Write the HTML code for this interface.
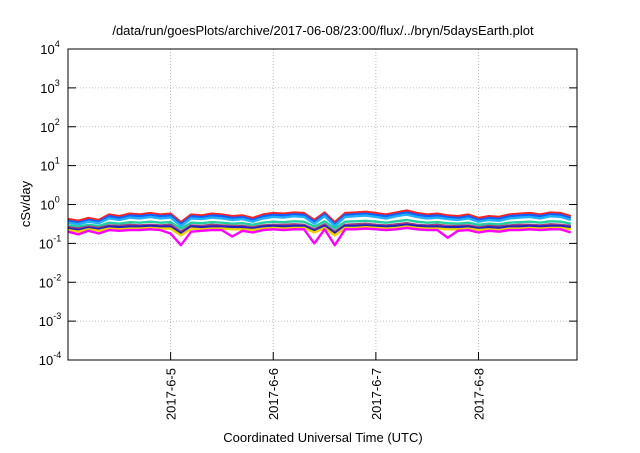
<!DOCTYPE html>
<html><head><meta charset="utf-8"><style>
body{margin:0;background:#fff;width:640px;height:448px;overflow:hidden}
text{font-family:"Liberation Sans",sans-serif;fill:#000}
</style></head><body>
<svg id="chart" width="640" height="448" xmlns="http://www.w3.org/2000/svg"></svg>
<script>
const dayLabels=["2017-6-5","2017-6-6","2017-6-7","2017-6-8"];
const dayTicks=[1,2,3,4];
const decadeExps=[-4,-3,-2,-1,0,1,2,3,4];
const seriesColors=["#ff2020","#1060ff","#20b0ff","#20d0a0","#a04080","#2020c0","#f0d000","#ff00ff"];
const red=[0.42,0.38,0.45,0.40,0.55,0.50,0.58,0.55,0.60,0.55,0.58,0.35,0.55,0.52,0.58,0.55,0.50,0.52,0.45,0.55,0.60,0.58,0.62,0.60,0.40,0.62,0.35,0.60,0.62,0.65,0.60,0.55,0.62,0.70,0.60,0.55,0.58,0.52,0.50,0.55,0.45,0.50,0.48,0.55,0.58,0.60,0.55,0.62,0.60,0.50];
const blue=[0.38,0.34,0.40,0.36,0.50,0.45,0.52,0.50,0.54,0.50,0.52,0.31,0.50,0.47,0.52,0.50,0.45,0.47,0.40,0.50,0.54,0.52,0.56,0.54,0.36,0.56,0.31,0.54,0.56,0.58,0.54,0.50,0.56,0.62,0.54,0.50,0.52,0.47,0.45,0.50,0.40,0.45,0.43,0.50,0.52,0.54,0.50,0.56,0.54,0.45];
const cyan=[0.34,0.31,0.36,0.33,0.44,0.40,0.46,0.44,0.48,0.44,0.46,0.28,0.44,0.42,0.46,0.44,0.40,0.42,0.36,0.44,0.48,0.46,0.50,0.48,0.32,0.50,0.28,0.48,0.50,0.52,0.48,0.44,0.50,0.55,0.48,0.44,0.46,0.42,0.40,0.44,0.36,0.40,0.38,0.44,0.46,0.48,0.44,0.50,0.48,0.40];
const teal=[0.29,0.27,0.30,0.28,0.34,0.32,0.35,0.34,0.36,0.34,0.35,0.24,0.34,0.33,0.35,0.34,0.32,0.33,0.30,0.34,0.36,0.35,0.37,0.36,0.27,0.37,0.24,0.36,0.37,0.38,0.36,0.34,0.37,0.40,0.36,0.34,0.35,0.33,0.32,0.34,0.30,0.32,0.31,0.34,0.35,0.36,0.34,0.37,0.36,0.32];
const purple=[0.26,0.24,0.27,0.25,0.29,0.28,0.30,0.29,0.30,0.29,0.30,0.20,0.29,0.28,0.30,0.29,0.28,0.28,0.26,0.29,0.30,0.30,0.31,0.30,0.23,0.31,0.20,0.30,0.31,0.32,0.30,0.29,0.31,0.33,0.30,0.29,0.30,0.28,0.28,0.29,0.26,0.28,0.27,0.29,0.30,0.30,0.29,0.31,0.30,0.28];
const dblue=[0.24,0.22,0.25,0.23,0.27,0.26,0.27,0.27,0.28,0.27,0.27,0.18,0.27,0.26,0.27,0.27,0.26,0.26,0.24,0.27,0.28,0.27,0.28,0.28,0.21,0.28,0.18,0.28,0.28,0.29,0.28,0.27,0.28,0.30,0.28,0.27,0.27,0.26,0.26,0.27,0.24,0.26,0.25,0.27,0.27,0.28,0.27,0.28,0.28,0.26];
const yellow=[0.22,0.20,0.23,0.21,0.24,0.23,0.24,0.24,0.25,0.24,0.24,0.16,0.24,0.23,0.24,0.24,0.23,0.23,0.22,0.24,0.25,0.24,0.25,0.25,0.19,0.25,0.16,0.25,0.25,0.26,0.25,0.24,0.25,0.27,0.25,0.24,0.24,0.23,0.23,0.24,0.22,0.23,0.22,0.24,0.24,0.25,0.24,0.25,0.25,0.23];
const magenta=[0.20,0.17,0.21,0.18,0.22,0.21,0.22,0.22,0.23,0.22,0.18,0.09,0.20,0.21,0.22,0.22,0.15,0.21,0.19,0.22,0.23,0.22,0.23,0.23,0.10,0.23,0.09,0.23,0.23,0.24,0.23,0.22,0.23,0.25,0.23,0.22,0.22,0.14,0.21,0.22,0.19,0.21,0.20,0.22,0.22,0.23,0.22,0.23,0.23,0.19];
const series=[red,blue,cyan,teal,purple,dblue,yellow,magenta];
const X0=68,X1=577,Y0=49,Y1=360,T0=0,T1=4.96;
const xs=t=>X0+(t-T0)/(T1-T0)*(X1-X0);
const ys=v=>Y1-(Math.log10(v)+4)/8*(Y1-Y0);
const svg=document.getElementById('chart');
const NS="http://www.w3.org/2000/svg";
function mk(tag,attrs,txt){const e=document.createElementNS(NS,tag);for(const k in attrs)e.setAttribute(k,attrs[k]);if(txt!==undefined)e.textContent=txt;svg.appendChild(e);return e;}
decadeExps.forEach(p=>{
 const y=ys(Math.pow(10,p));
 if(p>-4&&p<4){const g=mk('line',{x1:X0,x2:X1,y1:y,y2:y,stroke:'#aaa','stroke-width':0.8,'stroke-dasharray':'1,2'});
 
 }
 const tk=mk('line',{x1:X0,x2:X0+8,y1:y,y2:y,stroke:'#000'});
 
 
 const tk2=mk('line',{x1:X1-8,x2:X1,y1:y,y2:y,stroke:'#000'});
 
 
 const lb=mk('text',{x:X0-18,y:y+5,'text-anchor':'middle','font-size':13});
 
 
 lb.innerHTML='10<tspan dy="-7" font-size="9">'+p+'</tspan>';
});
dayTicks.forEach((d,i)=>{
 const x=xs(d);
 const g=mk('line',{x1:x,x2:x,y1:Y0,y2:Y1,stroke:'#aaa','stroke-width':0.8,'stroke-dasharray':'1,2'});
 
 
 const tk=mk('line',{x1:x,x2:x,y1:Y1,y2:Y1-8,stroke:'#000'});
 
 
 const lb=mk('text',{x:0,y:0,'text-anchor':'end','font-size':13,transform:`translate(${x+5},368) rotate(-90)`},dayLabels[i]);
 
 
});
series.forEach((s,si)=>{
 const d=s.map((v,i)=>(i?'L':'M')+xs(i*0.1).toFixed(1)+','+ys(v).toFixed(1)).join('');
 const p=mk('path',{d:d,fill:'none',stroke:seriesColors[si],'stroke-width':2.4,'stroke-linejoin':'round'});
 
 
});
const fr=mk('rect',{x:X0,y:Y0,width:X1-X0,height:Y1-Y0,fill:'none',stroke:'#000','stroke-width':1});


const tt=mk('text',{x:323,y:35,'text-anchor':'middle','font-size':13},'/data/run/goesPlots/archive/2017-06-08/23:00/flux/../bryn/5daysEarth.plot');


const xt=mk('text',{x:323,y:442,'text-anchor':'middle','font-size':13},'Coordinated Universal Time (UTC)');


const yt=mk('text',{x:0,y:0,'text-anchor':'middle','font-size':13,transform:'translate(30,204) rotate(-90)'},'cSv/day');


</script>
</body></html>
